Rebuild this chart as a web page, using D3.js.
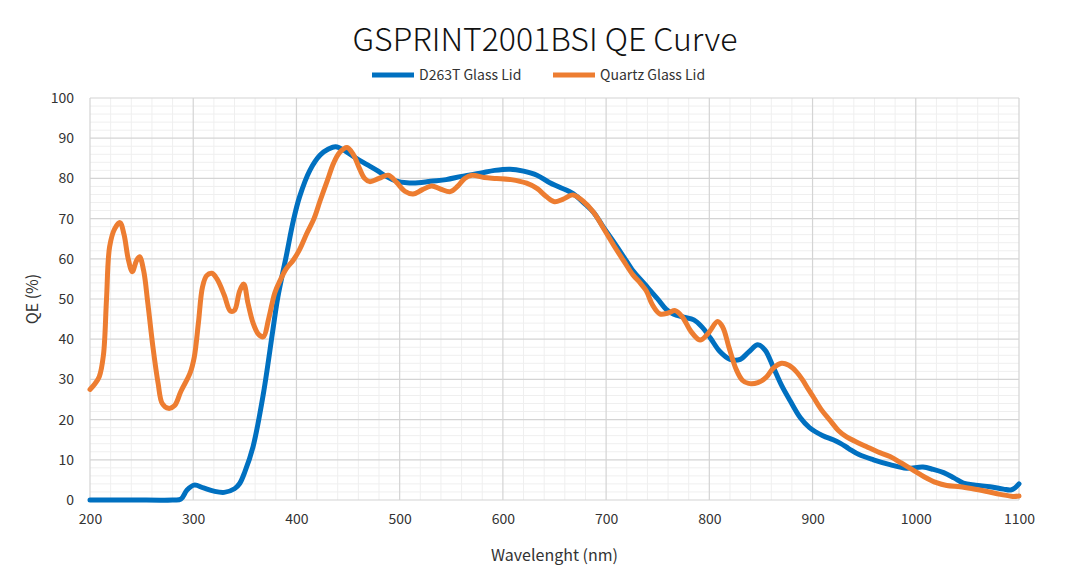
<!DOCTYPE html>
<html>
<head>
<meta charset="utf-8">
<script src="https://cdn.jsdelivr.net/npm/d3@7"></script>
<style>
  body { margin: 0; background: #fff; }
  svg { display: block; font-family: "Noto Sans CJK SC", "Noto Sans", sans-serif; }
</style>
</head>
<body>
<svg id="chart" width="1080" height="586"></svg>
<script>
// D263T Glass Lid
const d263Wl = [200, 240, 280, 288, 294, 301, 310, 320, 330, 340, 345, 350, 358, 368, 377, 382, 390, 397, 403, 413,
  423, 431, 438, 448, 458, 468, 478, 487, 497, 507, 518, 530, 545, 560, 578, 592, 607, 620, 633,
  645, 655, 668, 680, 688, 697, 707, 717, 726, 737, 750, 758, 765, 775, 785, 793, 801, 810, 820, 830,
  838, 847, 854, 862, 870, 878, 888, 897, 910, 920, 927, 935, 945, 959, 975, 991, 1007, 1017, 1027, 1037,
  1046, 1058, 1072, 1085, 1092, 1096, 1100];
const d263Qe = [0, 0, 0, 0.2, 2.5, 3.7, 3, 2.2, 1.9, 2.8, 4.1, 7, 13.3, 26.5, 42, 50.5, 60.5, 69.5, 75.4, 82,
  85.8, 87.3, 87.9, 86.7, 85, 83.5, 82, 80.5, 79.3, 78.9, 78.9, 79.3, 79.7, 80.5, 81.3, 82, 82.3, 81.8, 80.8,
  79, 77.8, 76.2, 73.5, 71.5, 68, 64.3, 60.5, 57, 53.8, 50, 47.5, 46.3, 45.5, 44.8, 43, 40.3, 37, 35, 35,
  36.8, 38.6, 37.3, 33, 28.5, 24.8, 20.5, 18, 16, 15, 14.1, 12.8, 11.3, 10, 8.8, 7.9, 8.2, 7.6, 6.8, 5.5,
  4.2, 3.7, 3.3, 2.7, 2.5, 3, 4];

// Quartz Glass Lid
const quartzWl = [200, 205, 209, 213, 216, 219, 224, 229, 233, 237, 241, 245, 248, 252, 256, 261, 266, 270, 276, 282,
  288, 297, 301, 305, 309, 313, 318, 323, 330, 336, 340, 345, 349, 353, 358, 363, 368, 373, 379, 384,
  390, 397, 403, 410, 417, 423, 430, 436, 442, 449, 455, 461, 466, 471, 480, 489, 497, 505, 513, 522, 531, 540,
  549, 556, 563, 570, 582, 594, 608, 623, 633, 642, 650, 658, 668, 677, 688, 697, 707, 717, 726, 733,
  739, 745, 752, 760, 767, 774, 782, 791, 799, 808, 813, 819, 826, 832, 838, 847, 855, 862, 870, 877,
  884, 890, 896, 901, 909, 917, 925, 933, 942, 952, 963, 975, 986, 997, 1008, 1020, 1030, 1043, 1055, 1069,
  1082, 1094, 1100];
const quartzQe = [27.5, 29, 30.7, 36, 50, 63, 67.5, 69, 66, 60, 56.8, 59.5, 60.5, 57, 49, 38, 29, 24, 22.8, 23.5,
  27, 31.6, 35.5, 44, 53, 55.8, 56.4, 55, 51, 47, 47.2, 52, 53.7, 49, 44, 41.3, 40.6, 45, 51.5, 54.5,
  57.5, 59.7, 62.3, 66.3, 70, 74.5, 79.5, 83.8, 86.5, 87.7, 86, 82.5, 80, 79.2, 80, 80.8, 79, 76.8, 76.1, 77.2, 78.1, 77.3,
  76.7, 78, 80, 80.8, 80.2, 80, 79.7, 78.8, 77.5, 75.5, 74.2, 74.8, 75.9, 74.5, 71.5, 67.8, 63.5, 59.5, 56, 54,
  52, 48.5, 46.3, 46.5, 47.1, 45.5, 42, 39.8, 41.5, 44.4, 43, 38, 32.5, 29.8, 29, 29.2, 30.5, 32.8, 34, 33.5,
  32, 30, 27.5, 25.5, 22.3, 19.8, 17.3, 15.7, 14.5, 13.3, 12, 10.8, 9.2, 7.5, 5.8, 4.3, 3.6, 3.3, 2.8, 2.1,
  1.4, 0.9, 1];

const seriesNames = ['D263T Glass Lid', 'Quartz Glass Lid'];
const seriesColors = ['#0070C0', '#ED7D31'];
const xTicks = [200, 300, 400, 500, 600, 700, 800, 900, 1000, 1100];
const yTicks = [0, 10, 20, 30, 40, 50, 60, 70, 80, 90, 100];

const W = 1080, H = 586;
const margin = { top: 98, right: 61, bottom: 86, left: 90 };
const iw = W - margin.left - margin.right;
const ih = H - margin.top - margin.bottom;

const svg = d3.select('#chart');

const x = d3.scaleLinear().domain([200, 1100]).range([0, iw]);
const y = d3.scaleLinear().domain([0, 100]).range([ih, 0]);

const g = svg.append('g').attr('transform', `translate(${margin.left},${margin.top})`);

// minor grid
g.append('g').selectAll('line')
  .data(d3.range(200, 1101, 20).filter(v => v % 100 !== 0))
  .enter().append('line')
  .attr('x1', d => x(d)).attr('x2', d => x(d))
  .attr('y1', 0).attr('y2', ih)
  .attr('stroke', '#efefef').attr('stroke-width', 1);
g.append('g').selectAll('line')
  .data(d3.range(0, 101, 2).filter(v => v % 10 !== 0))
  .enter().append('line')
  .attr('x1', 0).attr('x2', iw)
  .attr('y1', d => y(d)).attr('y2', d => y(d))
  .attr('stroke', '#efefef').attr('stroke-width', 1);

// major grid
g.append('g').selectAll('line')
  .data(xTicks)
  .enter().append('line')
  .attr('x1', d => x(d)).attr('x2', d => x(d))
  .attr('y1', 0).attr('y2', ih)
  .attr('stroke', '#d4d4d4').attr('stroke-width', 1.2);
g.append('g').selectAll('line')
  .data(yTicks)
  .enter().append('line')
  .attr('x1', 0).attr('x2', iw)
  .attr('y1', d => y(d)).attr('y2', d => y(d))
  .attr('stroke', '#d4d4d4').attr('stroke-width', 1.2);

// axes (labels only)
const xAxis = g.append('g')
  .attr('transform', `translate(0,${ih})`)
  .call(d3.axisBottom(x).tickValues(xTicks).tickFormat(d3.format('d')).tickSize(0).tickPadding(14));
const yAxis = g.append('g')
  .call(d3.axisLeft(y).tickValues(yTicks).tickFormat(d3.format('d')).tickSize(0).tickPadding(16));
[xAxis, yAxis].forEach(a => {
  a.select('.domain').remove();
  a.selectAll('text').attr('font-size', 14).attr('fill', '#333')
    .attr('font-family', '"Noto Sans CJK SC", "Noto Sans", sans-serif');
});

// curves
const line = d3.line()
  .x(d => x(d[0]))
  .y(d => y(d[1]))
  .curve(d3.curveCatmullRom.alpha(0.5));

const series = [
  d263Wl.map((w, i) => [w, d263Qe[i]]),
  quartzWl.map((w, i) => [w, quartzQe[i]])
];

series.forEach((s, i) => {
  g.append('path')
    .datum(s)
    .attr('fill', 'none')
    .attr('stroke', seriesColors[i])
    .attr('stroke-width', 5)
    .attr('stroke-linejoin', 'round')
    .attr('stroke-linecap', 'round')
    .attr('d', line);
});

// title
svg.append('text')
  .attr('x', 545).attr('y', 51)
  .attr('text-anchor', 'middle')
  .attr('font-size', 32)
  .attr('font-weight', 300)
  .attr('fill', '#111')
  .text('GSPRINT2001BSI QE Curve');

// legend
const legendX = [372, 553];
seriesNames.forEach((name, i) => {
  svg.append('line')
    .attr('x1', legendX[i]).attr('x2', legendX[i] + 42)
    .attr('y1', 75).attr('y2', 75)
    .attr('stroke', seriesColors[i]).attr('stroke-width', 5);
  svg.append('text')
    .attr('x', legendX[i] + 47).attr('y', 80)
    .attr('font-size', 14).attr('fill', '#333')
    .text(name);
});

// axis titles
svg.append('text')
  .attr('transform', `translate(38,${margin.top + ih / 2}) rotate(-90)`)
  .attr('text-anchor', 'middle')
  .attr('font-size', 16).attr('fill', '#333')
  .text('QE (%)');
svg.append('text')
  .attr('x', margin.left + iw / 2).attr('y', 561)
  .attr('text-anchor', 'middle')
  .attr('font-size', 16).attr('fill', '#333')
  .text('Wavelenght (nm)');
</script>
</body>
</html>
